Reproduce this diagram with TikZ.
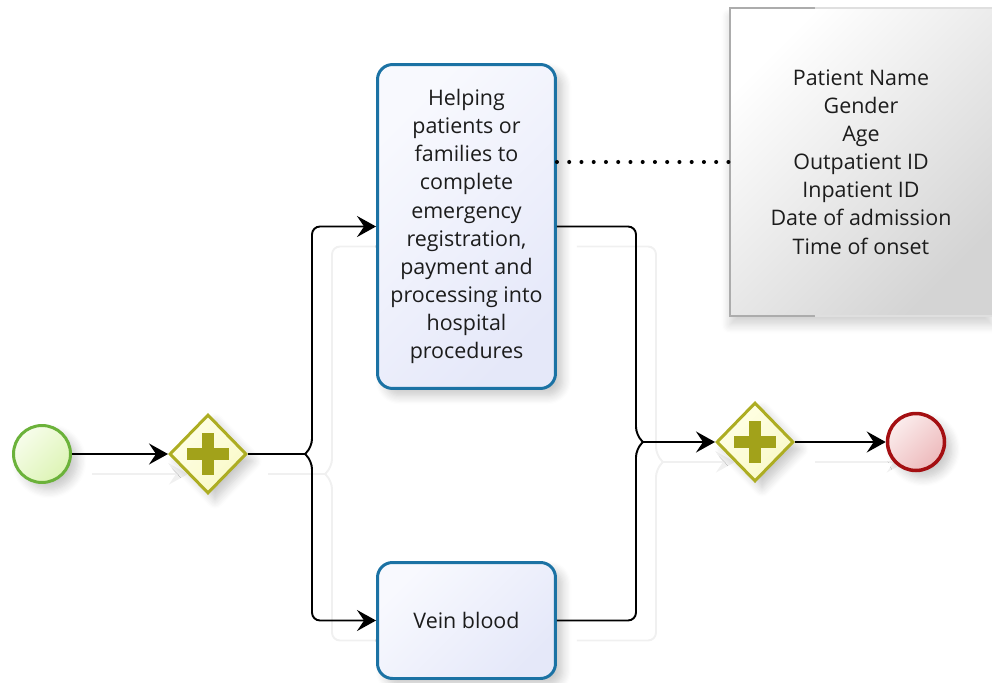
\documentclass[tikz,border=0pt]{standalone}
\usepackage{fontspec}
\setmainfont{Open Sans}
\usetikzlibrary{shapes.geometric,arrows.meta,shadows.blur,calc}
\pgfdeclarelayer{background}
\pgfsetlayers{background,main}

\definecolor{startline}{HTML}{6BB23A}
\definecolor{startfillA}{HTML}{F7FDEB}
\definecolor{startfillB}{HTML}{DDF4B5}
\definecolor{endline}{HTML}{A40F12}
\definecolor{endfillA}{HTML}{FBEDED}
\definecolor{endfillB}{HTML}{EDB9BB}
\definecolor{gateline}{HTML}{ADAD22}
\definecolor{gatefillA}{HTML}{FFFFE6}
\definecolor{gatefillB}{HTML}{F9F9C8}
\definecolor{gateplus}{HTML}{A2A21A}
\definecolor{taskline}{HTML}{1B72A4}
\definecolor{taskfillA}{HTML}{F8F9FE}
\definecolor{taskfillB}{HTML}{E5E8F9}
\definecolor{notefillB}{HTML}{D4D4D4}
\definecolor{textcol}{HTML}{1C1C1C}

\newcommand\plusmark[1]{%
  \fill[gateplus] ($(#1)+(-21,-6)$) rectangle ($(#1)+(21,6)$);
  \fill[gateplus] ($(#1)+(-6,-21)$) rectangle ($(#1)+(6,21)$);
}

% sequence flows, reused for their faint offset copies
\newcommand\flowpaths{%
  \draw[flow] (start) -- (g1);
  \draw[flow,-] (g1.east) -- (splitL);
  \draw[flow,rounded corners=0.16cm] (splitL) -- ++(7,-7) |- (t1.west);
  \draw[flow,rounded corners=0.16cm] (splitL) -- ++(7,7) |- (t2.west);
  \draw[flow,-,rounded corners=0.16cm] (t1.east) -| ($(joinR)+(-7,-7)$) -- (joinR);
  \draw[flow,-,rounded corners=0.16cm] (t2.east) -| ($(joinR)+(-7,7)$) -- (joinR);
  \draw[flow] (joinR) -- (g2.west);
  \draw[flow] (g2.east) -- (end);
}

\begin{document}
\begin{tikzpicture}[x=0.02cm,y=-0.02cm,
  font=\fontsize{12.2}{16}\selectfont, text=textcol,
  softshadow/.style={blur shadow={shadow xshift=4pt,shadow yshift=-4pt,
      shadow blur steps=8,shadow opacity=22,shadow blur radius=5pt}},
  startev/.style={circle,draw=startline,line width=1.7pt,minimum size=1.14cm,inner sep=0pt,
      left color=startfillA,right color=startfillB,shading angle=45,softshadow},
  endev/.style={circle,draw=endline,line width=2pt,minimum size=1.14cm,inner sep=0pt,
      left color=endfillA,right color=endfillB,shading angle=45,softshadow},
  gateway/.style={diamond,draw=gateline,line width=1.7pt,minimum width=1.54cm,
      minimum height=1.58cm,inner sep=0pt,aspect=1,
      left color=gatefillA,right color=gatefillB,shading angle=45,softshadow},
  task/.style={rectangle,rounded corners=0.3cm,draw=taskline,line width=1.7pt,
      minimum width=3.56cm,align=center,inner sep=2pt,
      left color=taskfillA,right color=taskfillB,shading angle=45,softshadow},
  note/.style={rectangle,minimum width=5.24cm,minimum height=6.16cm,align=center,
      left color=white,right color=notefillB,shading angle=45,
      blur shadow={shadow xshift=0pt,shadow yshift=-5pt,shadow blur steps=8,
      shadow opacity=18,shadow blur radius=5pt}},
  flow/.style={line width=1.1pt,draw=black,
      -{Stealth[length=3.8mm,width=4.2mm,inset=1.4mm]}},
  assoc/.style={line width=2.3pt,dash pattern=on 0pt off 0.245cm,line cap=round,draw=black}
]
\useasboundingbox (0,0) rectangle (992,683);

% events
\node[startev] (start) at (42,454) {};
\node[endev] (end) at (916,442) {};

% gateways
\node[gateway] (g1) at (208,454) {};
\plusmark{g1}
\node[gateway] (g2) at (755,442) {};
\plusmark{g2}

% tasks
\node[task,minimum height=6.48cm] (t1) at (466.5,226.5)
  {Helping\\patients or\\families to\\complete\\emergency\\registration,\\payment and\\processing into\\hospital\\procedures};
\node[task,minimum height=2.32cm] (t2) at (466.5,620.5) {Vein blood};

% data note
\node[note] (data) at (861,162)
  {Patient Name\\Gender\\Age\\Outpatient ID\\Inpatient ID\\Date of admission\\Time of onset};
\draw[gray!65,line width=1pt] (data.north east) -- (data.north west) -- (data.south west) -- (data.south east);
\draw[gray!25,line width=1pt] ($(data.north west)+(85,0)$) -- (data.north east);
\draw[gray!25,line width=1pt] ($(data.south west)+(85,0)$) -- (data.south east);

% branch points of the flows
\coordinate (splitL) at (305,454);
\coordinate (joinR) at (643,442);

% faint offset copies of the flows
\begin{pgfonlayer}{background}
\begin{scope}[transform canvas={shift={(20,20)}},
  flow/.style={line width=1.1pt,draw=black!6,
      -{Stealth[length=3.8mm,width=4.2mm,inset=1.4mm]}}]
\flowpaths
\end{scope}
\end{pgfonlayer}

\flowpaths

% association to the data note
\draw[assoc] (t1.east |- data.west) -- (data.west);
\end{tikzpicture}
\end{document}
